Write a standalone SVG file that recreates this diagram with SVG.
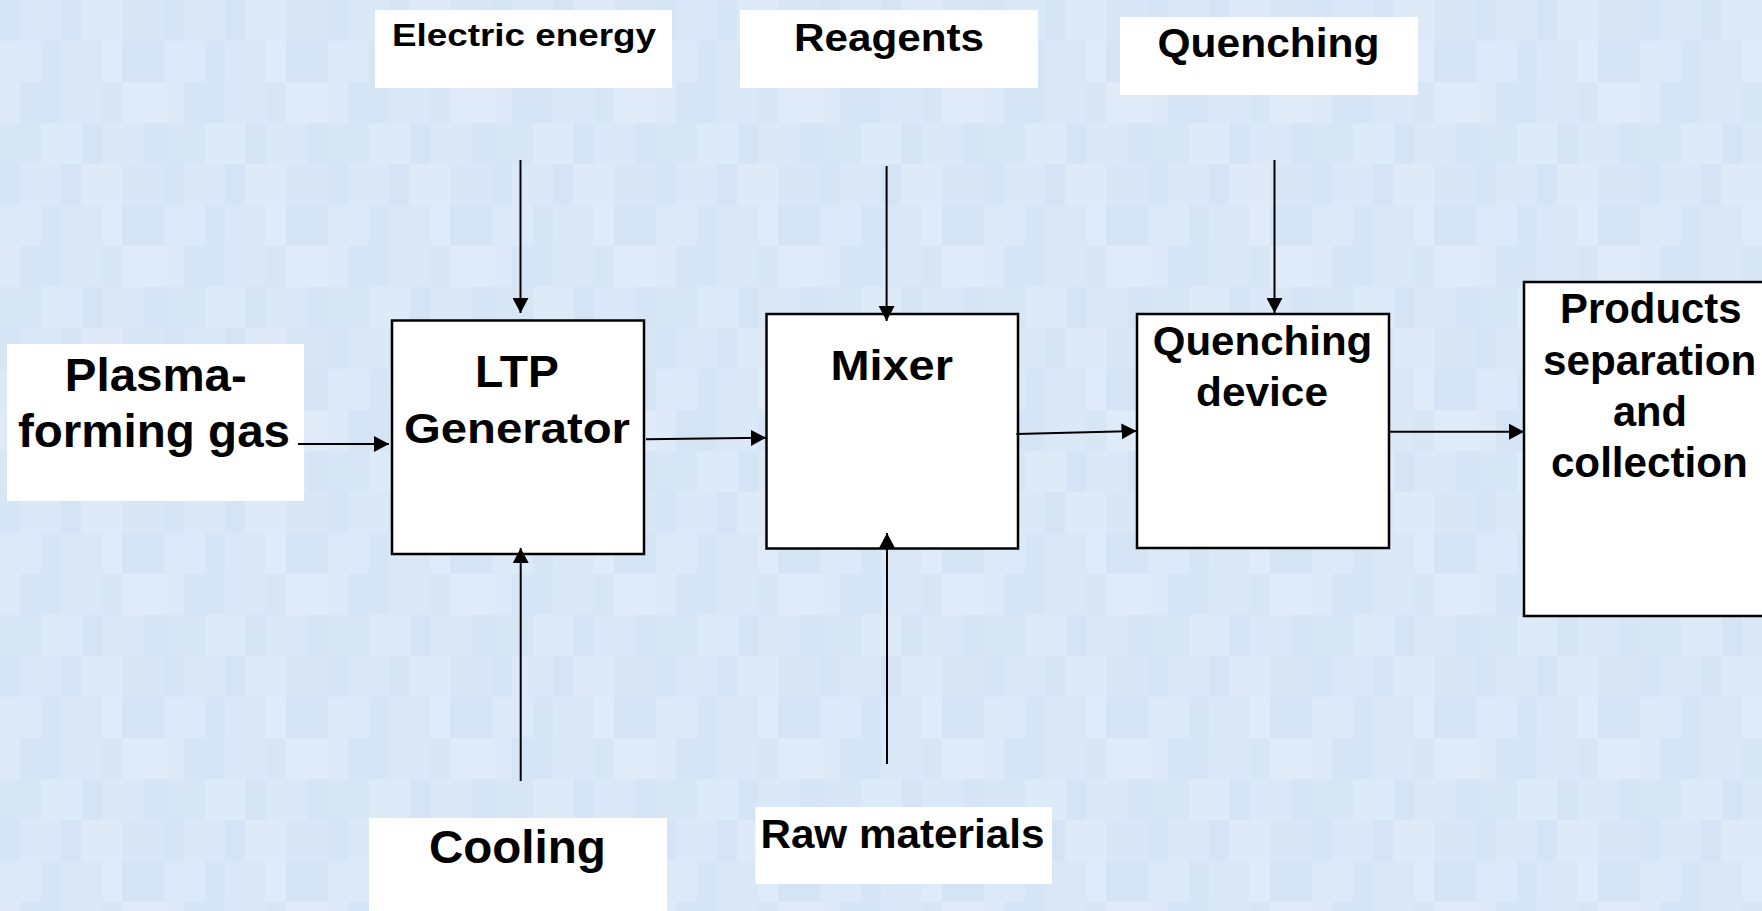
<svg xmlns="http://www.w3.org/2000/svg" width="1762" height="911" viewBox="0 0 1762 911">
<defs>
<style>
.lbl{fill:#ffffff;stroke:none}
.node{fill:#ffffff;stroke:#000000;stroke-width:2.5}
.t{font-family:"Liberation Sans",Arial,sans-serif;font-weight:bold;fill:#000000;text-anchor:middle}
.c{stroke:#000000;stroke-width:2;fill:none;marker-end:url(#ah)}
</style>
<marker id="ah" markerUnits="userSpaceOnUse" markerWidth="16" markerHeight="16" refX="15" refY="8" orient="auto">
<path d="M0,0 L15,8 L0,16 z" fill="#000000"/>
</marker>
<pattern id="bg" patternUnits="userSpaceOnUse" width="164" height="164">
<rect x="0" y="0" width="164" height="164" fill="#d9e7f6"/>
<rect x="0" y="0" width="20" height="41" fill="#d6e5f5"/>
<rect x="20" y="0" width="41" height="41" fill="#dbe8f7"/>
<rect x="61" y="0" width="20" height="41" fill="#d5e4f4"/>
<rect x="81" y="0" width="41" height="41" fill="#deeaf8"/>
<rect x="122" y="0" width="42" height="41" fill="#d8e6f6"/>
<rect x="0" y="41" width="41" height="41" fill="#dce9f8"/>
<rect x="41" y="41" width="20" height="41" fill="#d5e5f5"/>
<rect x="61" y="41" width="41" height="41" fill="#dae7f7"/>
<rect x="102" y="41" width="20" height="41" fill="#dfebf9"/>
<rect x="122" y="41" width="42" height="41" fill="#d4e4f4"/>
<rect x="0" y="82" width="20" height="41" fill="#deeaf8"/>
<rect x="20" y="82" width="41" height="41" fill="#d5e5f5"/>
<rect x="61" y="82" width="41" height="41" fill="#dbe8f7"/>
<rect x="102" y="82" width="20" height="41" fill="#d7e6f5"/>
<rect x="122" y="82" width="42" height="41" fill="#dfebf9"/>
<rect x="0" y="123" width="41" height="41" fill="#d7e6f5"/>
<rect x="41" y="123" width="41" height="41" fill="#ddeaf8"/>
<rect x="82" y="123" width="20" height="41" fill="#d4e4f4"/>
<rect x="102" y="123" width="41" height="41" fill="#dae8f7"/>
<rect x="143" y="123" width="21" height="41" fill="#d6e5f5"/>
</pattern>
</defs>
<rect x="0" y="0" width="1762" height="911" fill="url(#bg)"/>

<g id="electric-energy">
<rect class="lbl" x="375" y="10" width="297" height="78"/>
<text class="t" x="524" y="46" font-size="32" textLength="264" lengthAdjust="spacingAndGlyphs">Electric energy</text>
</g>
<g id="reagents">
<rect class="lbl" x="740" y="10" width="298" height="78"/>
<text class="t" x="889" y="51" font-size="39" textLength="190" lengthAdjust="spacingAndGlyphs">Reagents</text>
</g>
<g id="quenching">
<rect class="lbl" x="1120" y="17" width="298" height="78"/>
<text class="t" x="1268.5" y="57" font-size="40" textLength="222" lengthAdjust="spacingAndGlyphs">Quenching</text>
</g>
<g id="plasma-forming-gas">
<rect class="lbl" x="7" y="344" width="297" height="157"/>
<text class="t" x="155.8" y="391" font-size="47" textLength="182" lengthAdjust="spacingAndGlyphs">Plasma-</text>
<text class="t" x="154" y="447" font-size="47" textLength="272" lengthAdjust="spacingAndGlyphs">forming gas</text>
</g>
<g id="ltp-generator">
<rect class="node" x="392" y="320.5" width="252" height="233.5"/>
<text class="t" x="517" y="387" font-size="44" textLength="84" lengthAdjust="spacingAndGlyphs">LTP</text>
<text class="t" x="517" y="443" font-size="43" textLength="226" lengthAdjust="spacingAndGlyphs">Generator</text>
</g>
<g id="mixer">
<rect class="node" x="766.5" y="314" width="251.5" height="234.5"/>
<text class="t" x="891.7" y="380" font-size="42" textLength="122.6" lengthAdjust="spacingAndGlyphs">Mixer</text>
</g>
<g id="quenching-device">
<rect class="node" x="1137" y="314" width="252" height="234"/>
<text class="t" x="1262.5" y="355" font-size="40" textLength="219.5" lengthAdjust="spacingAndGlyphs">Quenching</text>
<text class="t" x="1262" y="406" font-size="40" textLength="132" lengthAdjust="spacingAndGlyphs">device</text>
</g>
<g id="products">
<rect class="node" x="1524" y="282" width="246" height="334"/>
<text class="t" x="1650.8" y="323" font-size="42" textLength="181.6" lengthAdjust="spacingAndGlyphs">Products</text>
<text class="t" x="1649.7" y="375" font-size="42" textLength="213.4" lengthAdjust="spacingAndGlyphs">separation</text>
<text class="t" x="1649.9" y="426" font-size="42" textLength="74" lengthAdjust="spacingAndGlyphs">and</text>
<text class="t" x="1649.4" y="477" font-size="42" textLength="197" lengthAdjust="spacingAndGlyphs">collection</text>
</g>
<g id="cooling">
<rect class="lbl" x="369" y="818" width="298" height="100"/>
<text class="t" x="517.4" y="863" font-size="46" textLength="177" lengthAdjust="spacingAndGlyphs">Cooling</text>
</g>
<g id="raw-materials">
<rect class="lbl" x="755.5" y="807" width="296.5" height="77"/>
<text class="t" x="902.4" y="848" font-size="41" textLength="284" lengthAdjust="spacingAndGlyphs">Raw materials</text>
</g>

<g id="connectors">
<line class="c" x1="520.5" y1="160" x2="520.5" y2="313"/>
<line class="c" x1="886.6" y1="166" x2="886.6" y2="321"/>
<line class="c" x1="1274.5" y1="160" x2="1274.5" y2="313"/>
<line class="c" x1="298" y1="444" x2="389" y2="444"/>
<line class="c" x1="646" y1="439.3" x2="766" y2="437.7"/>
<line class="c" x1="1016.4" y1="434" x2="1136.5" y2="431"/>
<line class="c" x1="1390" y1="431.7" x2="1524" y2="431.7"/>
<line class="c" x1="520.7" y1="781" x2="520.7" y2="548"/>
<line class="c" x1="887" y1="764" x2="887" y2="533"/>
</g>
</svg>
